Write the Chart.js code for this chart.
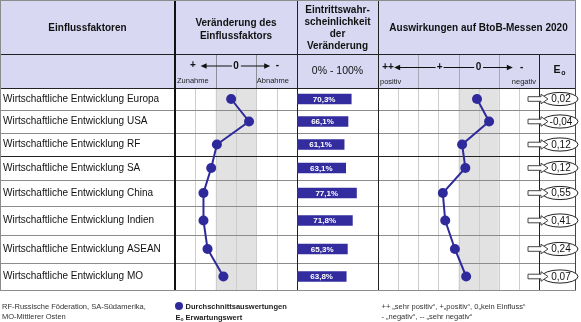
<!DOCTYPE html>
<html>
<head>
<meta charset="utf-8">
<title>Einflussfaktoren BtoB-Messen 2020</title>
<script src="https://cdn.jsdelivr.net/npm/chart.js@4.4.0/dist/chart.umd.min.js"></script>
<style>
  html, body { margin: 0; padding: 0; background: #fff; }
  canvas { display: block; }
</style>
</head>
<body>
<canvas id="chart" width="581" height="322"></canvas>
<script>
/*
    Einflussfaktoren und ihre Auswirkungen auf BtoB-Messen 2020.
    One canvas: the table frame is drawn by a small plugin,
    dots, lines and bars come from Chart.js and its scales.
*/

// 1. The data
const factors = [
    'Wirtschaftliche Entwicklung Europa',
    'Wirtschaftliche Entwicklung USA',
    'Wirtschaftliche Entwicklung RF',
    'Wirtschaftliche Entwicklung SA',
    'Wirtschaftliche Entwicklung China',
    'Wirtschaftliche Entwicklung Indien',
    'Wirtschaftliche Entwicklung ASEAN',
    'Wirtschaftliche Entwicklung MO'
];
const change = [0.12, -0.32, 0.47, 0.61, 0.80, 0.80, 0.70, 0.31];      // + Zunahme ... - Abnahme
const probability = [70.3, 66.1, 61.1, 63.1, 77.1, 71.8, 65.3, 63.8];  // Eintrittswahrscheinlichkeit in %
const impact = [0.04, -0.26, 0.41, 0.33, 0.89, 0.83, 0.59, 0.31];      // ++ positiv ... - negativ
const expected = [0.02, -0.04, 0.12, 0.12, 0.55, 0.41, 0.24, 0.07];    // E0 Erwartungswert

// 2. Layout of the table (pixels)
const colWidths = [175, 122, 81, 161, 40];
const rowHeights = [22, 23, 23, 24, 26, 29, 28, 27];
const headerRows = [54, 34];

const FONT = '"Liberation Sans", Arial, sans-serif';
const blue = '#2f2a9b';
const lavender = '#d8d8f3';
const shade = '#e2e2e2';

const edges = colWidths.reduce((acc, w) => { acc.push(acc[acc.length - 1] + w); return acc; }, [0]);
const fmt = (v, d) => v.toFixed(d).replace('.', ',');

// category scale whose rows have their own heights
class RowScale extends Chart.CategoryScale {
    getPixelForValue(value) {
        if (typeof value !== 'number') value = this.parse(value);
        if (value === null || isNaN(value)) return NaN;
        const total = rowHeights.reduce((a, b) => a + b, 0);
        const t = value + 0.5;
        const k = Math.max(0, Math.min(rowHeights.length - 1, Math.floor(t)));
        let acc = 0;
        for (let i = 0; i < k; i++) acc += rowHeights[i];
        acc += (t - k) * rowHeights[k];
        return this.top + acc / total * (this.bottom - this.top);
    }
}
RowScale.id = 'rows';
RowScale.defaults = Chart.CategoryScale.defaults;
Chart.register(RowScale);

function line(ctx, x0, y0, x1, y1, color, w) {
    ctx.save();
    ctx.strokeStyle = color;
    ctx.lineWidth = w || 1;
    ctx.beginPath();
    ctx.moveTo(x0, y0);
    ctx.lineTo(x1, y1);
    ctx.stroke();
    ctx.restore();
}
const crisp = x => Math.round(x) + 0.5;

function text(ctx, str, x, y, size, bold, align, color) {
    ctx.save();
    ctx.font = (bold ? 'bold ' : '') + size + 'px ' + FONT;
    ctx.textAlign = align || 'center';
    ctx.textBaseline = 'middle';
    ctx.fillStyle = color || '#111';
    ctx.fillText(str, x, y);
    ctx.restore();
}

// arrow line from x0 to x1 with a filled head at x1
function arrow(ctx, x0, x1, y) {
    const dir = x1 > x0 ? 1 : -1;
    line(ctx, x0, y, x1 - dir * 4, y, '#111', 1);
    ctx.save();
    ctx.fillStyle = '#111';
    ctx.beginPath();
    ctx.moveTo(x1, y);
    ctx.lineTo(x1 - dir * 6, y - 2.8);
    ctx.lineTo(x1 - dir * 6, y + 2.8);
    ctx.closePath();
    ctx.fill();
    ctx.restore();
}

const tablePlugin = {
    id: 'table',
    // each x scale gets its own column
    afterLayout(chart) {
        ['xChange', 'xProb', 'xImpact'].forEach((id, i) => {
            const s = chart.scales[id];
            s.left = edges[i + 1];
            s.right = edges[i + 2];
            s.width = colWidths[i + 1];
            s.configure();
        });
    },
    beforeDraw(chart) {
        const { ctx, chartArea: a, scales } = chart;
        ctx.save();
        ctx.fillStyle = '#fff';
        ctx.fillRect(0, 0, chart.width, chart.height);
        ctx.fillStyle = lavender;
        ctx.fillRect(0, 0, a.right, a.top);
        ctx.fillStyle = shade;
        [scales.xChange, scales.xImpact].forEach(s => {
            const x0 = s.getPixelForValue(0.5), x1 = s.getPixelForValue(-0.5);
            ctx.fillRect(Math.min(x0, x1), a.top, Math.abs(x1 - x0), a.bottom - a.top);
        });
        ctx.restore();
    },
    beforeDatasetsDraw(chart) {
        const { ctx, chartArea: a, scales } = chart;
        const h1 = headerRows[0];

        // light sub grid
        [1, 0.5, 0, -0.5, -1].forEach(v => {
            const x = crisp(scales.xChange.getPixelForValue(v));
            line(ctx, x, a.top, x, a.bottom, '#cdcdcd');
        });
        [2, 1.5, 1, 0.5, 0, -0.5, -1].forEach(v => {
            const x = crisp(scales.xImpact.getPixelForValue(v));
            line(ctx, x, a.top, x, a.bottom, '#cdcdcd');
        });
        [0.5, -0.5].forEach(v => {
            const x = crisp(scales.xChange.getPixelForValue(v));
            line(ctx, x, h1, x, a.top, '#8f8f99');
        });
        [1.5, 0.5, -0.5].forEach(v => {
            const x = crisp(scales.xImpact.getPixelForValue(v));
            line(ctx, x, h1, x, a.top, '#a8a8b4');
        });

        // row separators
        for (let k = 1; k < factors.length; k++) {
            const y = crisp(scales.y.getPixelForValue(k - 0.5));
            line(ctx, 0, y, a.right, y, k === 3 ? '#222' : '#8c8c8c');
        }

        // header separators
        line(ctx, 0, crisp(h1), a.right, crisp(h1), '#222');
        line(ctx, 0, crisp(a.top), a.right, crisp(a.top), '#222');

        // column separators
        line(ctx, edges[1], 0, edges[1], a.bottom, '#111', 2);
        line(ctx, crisp(edges[2]), 0, crisp(edges[2]), a.bottom, '#222');
        line(ctx, crisp(edges[3]), 0, crisp(edges[3]), a.bottom, '#222');
        line(ctx, crisp(edges[4]), h1, crisp(edges[4]), a.bottom, '#222');

        // outer frame
        ctx.save();
        ctx.strokeStyle = '#8c8c8c';
        ctx.strokeRect(0.5, 0.5, a.right - 1, a.bottom);
        ctx.restore();
        line(ctx, a.right - 0.5, h1, a.right - 0.5, a.bottom, '#444');
    },
    afterDatasetsDraw(chart) {
        const { ctx, scales } = chart;

        // percentages inside the bars
        chart.getDatasetMeta(0).data.forEach((bar, i) => {
            text(ctx, fmt(probability[i], 1) + '%', (bar.x + bar.base) / 2, bar.y + 0.5, 8, true, 'center', '#fff');
        });

        // E0: arrow and ellipse
        const left = edges[4];
        expected.forEach((v, i) => {
            const y = scales.y.getPixelForValue(i);
            const cx = left + 21, rx = 18, ry = 6.6;
            ctx.save();
            ctx.fillStyle = '#fff';
            ctx.strokeStyle = '#222';
            ctx.lineWidth = 1;
            ctx.beginPath();
            ctx.ellipse(cx, y, rx, ry, 0, 0, Math.PI * 2);
            ctx.fill();
            ctx.stroke();
            const ax = left - 11;
            ctx.strokeStyle = '#444';
            ctx.beginPath();
            ctx.moveTo(ax, y - 2.3);
            ctx.lineTo(ax + 13, y - 2.3);
            ctx.lineTo(ax + 13, y - 4.8);
            ctx.lineTo(ax + 20, y);
            ctx.lineTo(ax + 13, y + 4.8);
            ctx.lineTo(ax + 13, y + 2.3);
            ctx.lineTo(ax, y + 2.3);
            ctx.closePath();
            ctx.fill();
            ctx.stroke();
            ctx.restore();
            text(ctx, fmt(v, 2), cx + 1, y + 0.5, 10, false, 'center', '#111');
        });
    },
    afterDraw(chart) {
        const { ctx, chartArea: a, scales } = chart;
        const h1 = headerRows[0];
        const c = i => (edges[i] + edges[i + 1]) / 2;

        // header row 1
        text(ctx, 'Einflussfaktoren', c(0), 28.5, 10, true);
        text(ctx, 'Veränderung des', c(1), 23.5, 10, true);
        text(ctx, 'Einflussfaktors', c(1), 36, 10, true);
        ['Eintrittswahr-', 'scheinlichkeit', 'der', 'Veränderung'].forEach((s, i) => {
            text(ctx, s, c(2), 10 + i * 12, 10, true);
        });
        text(ctx, 'Auswirkungen auf BtoB-Messen 2020', (edges[3] + edges[5]) / 2, 28.5, 10, true);

        // header row 2: Veränderung
        const sc = scales.xChange;
        const yA = 66;
        text(ctx, '+', sc.getPixelForValue(1.06), yA - 0.5, 10, true);
        arrow(ctx, sc.getPixelForValue(0.1), sc.getPixelForValue(0.87), yA);
        text(ctx, '0', sc.getPixelForValue(0), yA, 10, true);
        arrow(ctx, sc.getPixelForValue(-0.12), sc.getPixelForValue(-0.84), yA);
        text(ctx, '-', sc.getPixelForValue(-1.02), yA - 0.5, 10, true);
        text(ctx, 'Zunahme', edges[1] + 2, 81, 7.5, false, 'left', '#222');
        text(ctx, 'Abnahme', sc.getPixelForValue(-0.5) + 0.5, 81, 7.5, false, 'left', '#222');

        // header row 2: Eintrittswahrscheinlichkeit
        text(ctx, '0% - 100%', c(2), 71, 10.5, false);

        // header row 2: Auswirkungen
        const si = scales.xImpact;
        const yB = 67.5;
        text(ctx, '++', si.getPixelForValue(2.25), yB - 0.5, 10, true);
        arrow(ctx, si.getPixelForValue(1.07), si.getPixelForValue(2.1), yB);
        text(ctx, '+', si.getPixelForValue(0.97), yB - 0.5, 10, true);
        line(ctx, si.getPixelForValue(0.87), yB, si.getPixelForValue(0.11), yB, '#111');
        text(ctx, '0', si.getPixelForValue(0), yB, 10, true);
        arrow(ctx, si.getPixelForValue(-0.11), si.getPixelForValue(-0.85), yB);
        text(ctx, '-', si.getPixelForValue(-1.07), yB - 0.5, 10, true);
        text(ctx, 'positiv', edges[3] + 2, 81.5, 7.5, false, 'left', '#222');
        text(ctx, 'negativ', edges[4] - 3, 81.5, 7.5, false, 'right', '#222');

        // header row 2: E0
        text(ctx, 'E', c(4) - 2, 70, 10.5, true);
        text(ctx, 'o', c(4) + 4.5, 73, 7, true);

        // notes under the table
        text(ctx, 'RF-Russische Föderation, SA-Südamerika,', 2, 307, 7.5, false, 'left', '#333');
        text(ctx, 'MO-Mittlerer Osten', 2, 317, 7.5, false, 'left', '#333');

        ctx.save();
        ctx.fillStyle = blue;
        ctx.beginPath();
        ctx.arc(179, 306, 4, 0, Math.PI * 2);
        ctx.fill();
        ctx.restore();
        text(ctx, 'Durchschnittsauswertungen', 185.5, 307, 7.5, true, 'left', '#222');
        text(ctx, 'E', 175.5, 318, 7.5, true, 'left', '#222');
        text(ctx, 'o', 180.5, 319.5, 5, true, 'left', '#222');
        text(ctx, 'Erwartungswert', 185.5, 318, 7.5, true, 'left', '#222');

        text(ctx, '++ \u201Esehr positiv\u201C, +\u201Epositiv\u201C, 0\u201Ekein Einfluss\u201C', 381.5, 307, 7.5, false, 'left', '#333');
        text(ctx, '- \u201Enegativ\u201C, -- \u201Esehr negativ\u201C', 381.5, 316.5, 7.5, false, 'left', '#333');
    }
};

const context = document.getElementById('chart').getContext('2d');

const setup = {
    labels: factors,
    datasets: [{
        type: 'bar',
        label: 'Eintrittswahrscheinlichkeit',
        indexAxis: 'y',
        xAxisID: 'xProb',
        data: probability,
        backgroundColor: '#332c9e',
        barThickness: 10,
        borderWidth: 0
    }, {
        type: 'line',
        label: 'Veränderung des Einflussfaktors',
        indexAxis: 'y',
        xAxisID: 'xChange',
        data: change,
        borderColor: blue,
        backgroundColor: blue,
        borderWidth: 2,
        pointRadius: 5,
        pointBorderWidth: 0,
        pointBackgroundColor: blue,
        tension: 0,
        clip: false
    }, {
        type: 'line',
        label: 'Auswirkungen auf BtoB-Messen 2020',
        indexAxis: 'y',
        xAxisID: 'xImpact',
        data: impact,
        borderColor: blue,
        backgroundColor: blue,
        borderWidth: 2,
        pointRadius: 5,
        pointBorderWidth: 0,
        pointBackgroundColor: blue,
        tension: 0,
        clip: false
    }]
};

const config = {
    type: 'bar',
    data: setup,
    options: {
        indexAxis: 'y',
        responsive: false,
        animation: false,
        devicePixelRatio: 1,
        events: [],
        layout: {
            padding: { top: headerRows[0] + headerRows[1], bottom: 322 - 290, left: 3, right: 581 - edges[5] }
        },
        scales: {
            y: {
                type: 'rows',
                position: 'left',
                grid: { display: false, drawTicks: false },
                border: { display: false },
                ticks: {
                    autoSkip: false,
                    crossAlign: 'far',
                    padding: 0,
                    color: '#111',
                    font: { family: FONT, size: 10 }
                },
                afterFit(scale) { scale.width = colWidths[0] - 3; }
            },
            xChange: { type: 'linear', axis: 'x', position: 'top', min: -1.5, max: 1.5, reverse: true, display: false },
            xProb: { type: 'linear', axis: 'x', position: 'top', min: 0, max: 105, display: false },
            xImpact: { type: 'linear', axis: 'x', position: 'top', min: -1.5, max: 2.5, reverse: true, display: false }
        },
        plugins: {
            legend: { display: false },
            tooltip: { enabled: false }
        }
    },
    plugins: [tablePlugin]
};

const chart1 = new Chart(context, config);
</script>
</body>
</html>
